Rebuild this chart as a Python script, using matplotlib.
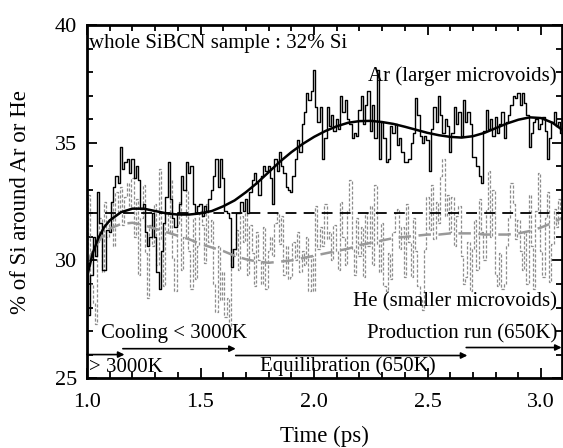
import numpy as np
import matplotlib.pyplot as plt

plt.rcParams['font.family'] = ['Liberation Serif', 'DejaVu Serif']

# time grid of the raw data (ps)
time = np.round(np.arange(1.00, 3.095, 0.01), 2)

# % Si around Ar (larger microvoids)
ar = [29.9, 27.7, 29.4, 31.0, 30.2, 32.9, 31.6, 29.6, 29.6, 31.3,
      31.2, 32.5, 33.1, 33.6, 33.3, 34.8, 33.9, 34.2, 34.3, 33.7,
      34.3, 33.5, 34.0, 33.4, 32.2, 32.4, 31.2, 30.6, 31.0, 32.0,
      31.0, 29.5, 28.8, 30.4, 31.6, 32.7, 34.2, 32.6, 31.8, 31.4,
      32.0, 32.4, 33.6, 33.0, 34.2, 33.7, 34.0, 32.4, 32.0, 32.3,
      32.4, 31.9, 32.3, 32.1, 32.6, 33.0, 33.6, 34.3, 33.1, 34.3,
      33.5, 32.1, 32.0, 31.8, 29.7, 30.5, 32.0, 32.0, 32.5, 32.1,
      32.6, 32.0, 32.9, 33.4, 33.7, 33.3, 32.8, 33.6, 34.0, 33.8,
      34.0, 33.5, 32.4, 34.3, 33.8, 34.6, 34.0, 33.7, 33.1, 33.0,
      32.9, 33.6, 34.3, 35.1, 34.6, 35.8, 36.3, 37.1, 36.8, 37.2,
      38.1, 36.5, 35.9, 36.5, 34.3, 35.2, 36.5, 35.7, 36.2, 35.5,
      36.0, 35.6, 37.0, 36.3, 36.8, 36.0, 35.8, 35.2, 35.4, 35.3,
      36.4, 37.0, 35.8, 36.6, 37.2, 35.5, 36.6, 35.2, 38.1, 34.3,
      35.9, 35.2, 34.2, 34.3, 35.7, 35.4, 35.8, 34.9, 35.2, 34.6,
      34.2, 34.2, 34.3, 35.0, 35.4, 36.9, 36.2, 35.3, 35.0, 35.3,
      35.1, 33.8, 35.6, 36.5, 35.9, 37.0, 36.2, 35.4, 36.0, 35.7,
      34.6, 35.4, 36.5, 35.8, 36.3, 35.3, 36.8, 35.9, 36.3, 35.8,
      34.4, 34.4, 34.0, 33.6, 33.3, 35.5, 36.4, 35.6, 36.0, 35.3,
      36.1, 35.4, 35.8, 36.3, 35.2, 35.9, 36.2, 36.6, 37.0, 36.9,
      37.1, 36.6, 37.1, 36.7, 36.2, 34.8, 35.4, 35.9, 36.0, 35.6,
      35.8, 36.1, 35.5, 34.3, 35.2, 35.9, 36.3, 35.7, 35.9, 35.4]

# % Si around He (smaller microvoids)
he = [30.5, 32.8, 29.0, 28.2, 27.3, 30.8, 31.8, 29.5, 32.5, 31.0,
      31.8, 32.5, 30.6, 32.9, 32.0, 33.1, 31.5, 32.7, 33.3, 32.2,
      33.5, 31.0, 32.6, 29.4, 31.8, 33.2, 30.3, 28.4, 31.5, 30.6,
      32.4, 29.8, 33.9, 30.9, 28.9, 32.0, 31.2, 33.4, 30.1, 28.7,
      31.5, 32.5, 29.6, 31.0, 33.0, 30.4, 28.8, 31.8, 29.2, 30.6,
      32.1, 31.5, 29.9, 32.4, 30.8, 31.7, 29.0, 27.8, 30.6, 28.3,
      29.5, 27.6, 28.4, 27.1, 30.5, 30.2, 31.3, 29.6, 31.9, 30.8,
      32.0, 29.4, 31.5, 30.3, 28.9, 31.2, 30.0, 29.0, 31.4, 28.8,
      30.4, 31.0, 30.2, 31.6, 32.0, 30.7, 31.9, 29.4, 30.6, 29.2,
      29.3, 30.8, 30.0, 31.2, 29.5, 30.4, 29.8, 31.0, 28.7, 30.2,
      28.7, 32.3, 30.5, 31.4, 30.6, 32.4, 30.9, 31.2, 30.0, 31.5,
      30.4, 29.6, 32.5, 31.0, 29.8, 32.1, 33.4, 30.5, 29.4, 31.8,
      30.2, 31.4, 29.3, 32.0, 30.6, 32.3, 29.8, 33.2, 30.7, 29.5,
      31.6, 28.9, 28.7, 30.3, 29.2, 31.2, 32.0, 32.2, 30.5, 31.4,
      29.3, 32.4, 30.8, 29.3, 31.8, 30.4, 28.9, 28.3, 27.9, 30.5,
      32.7, 31.3, 33.2, 30.9, 32.5, 31.6, 33.6, 34.3, 31.9, 32.8,
      31.2, 32.7, 30.6, 31.9, 32.3, 30.2, 29.0, 29.3, 30.8, 28.7,
      30.5, 31.7, 29.6, 32.6, 31.2, 30.0, 32.2, 33.8, 31.0, 33.0,
      29.4, 28.9, 30.3, 28.8, 29.0, 30.6, 31.8, 33.3, 32.4, 30.9,
      31.7, 30.4, 29.6, 31.2, 29.0, 32.8, 30.6, 28.8, 32.1, 33.7,
      30.4, 29.3, 31.8, 32.9, 29.1, 30.7, 32.2, 31.4, 32.6, 32.2]

# smooth fits
fit_t = [1.00, 1.025, 1.05, 1.075, 1.10, 1.15, 1.20, 1.25, 1.30, 1.35, 1.40,
         1.45, 1.50, 1.55, 1.60, 1.65, 1.70, 1.75, 1.80, 1.85, 1.90,
         1.95, 2.00, 2.05, 2.10, 2.15, 2.20, 2.25, 2.30, 2.35, 2.40,
         2.45, 2.50, 2.55, 2.60, 2.65, 2.70, 2.75, 2.80, 2.85, 2.90,
         2.95, 3.00, 3.05, 3.10]
ar_fit = [29.3, 30.3, 30.95, 31.4, 31.7, 32.05, 32.2, 32.2, 32.1, 32.0, 31.95,
          31.95, 32.0, 32.1, 32.3, 32.55, 32.9, 33.3, 33.75, 34.2, 34.6,
          34.95, 35.25, 35.5, 35.7, 35.85, 35.92, 35.93, 35.88, 35.8, 35.68,
          35.55, 35.42, 35.32, 35.25, 35.22, 35.28, 35.42, 35.62, 35.82, 35.98,
          36.08, 36.05, 35.85, 35.5]
he_fit = [29.9, 30.4, 30.8, 31.1, 31.35, 31.55, 31.6, 31.5, 31.35, 31.2, 31.05,
          30.9, 30.7, 30.55, 30.4, 30.2, 30.05, 29.95, 29.9, 29.95, 30.0,
          30.1, 30.2, 30.3, 30.4, 30.5, 30.65, 30.75, 30.85, 30.95, 31.0,
          31.05, 31.1, 31.1, 31.15, 31.15, 31.15, 31.1, 31.1, 31.1, 31.15,
          31.25, 31.4, 31.6, 31.85]

whole_si = 32

fig = plt.figure(figsize=(5.63, 4.48), dpi=100)
ax = fig.add_axes([0.1545, 0.156, 0.843, 0.788])

ax.plot(time, he, color='#8c8c8c', lw=0.9, ls=(0, (2.5, 1.5)), drawstyle='steps-mid')
ax.plot(time, ar, color='black', lw=1.0, drawstyle='steps-mid')
ax.axhline(whole_si, color='black', lw=1.3, ls=(0, (6, 4)))
ax.plot(fit_t, he_fit, color='#999999', lw=1.8, ls=(0, (5, 3)))
ax.plot(fit_t, ar_fit, color='black', lw=1.8)

ax.set_xlim(1.0, 3.09)
ax.set_ylim(25, 40)
ax.set_xticks([1.0, 1.5, 2.0, 2.5, 3.0])
ax.set_xticks(np.arange(1.0, 3.09, 0.1), minor=True)
ax.set_yticks([25, 30, 35, 40])
ax.set_yticks(range(25, 41), minor=True)
ax.tick_params(which='both', direction='in', top=True, right=True, labelsize=16, width=1.3)
ax.tick_params(which='major', length=7)
ax.tick_params(which='minor', length=4)
ax.tick_params(axis='x', pad=11)
ax.tick_params(axis='y', pad=7)
for s in ax.spines.values():
    s.set_linewidth(2)

ax.set_xlabel('Time (ps)', fontsize=16.5)
ax.set_ylabel('% of Si around Ar or He', fontsize=16.5)
ax.xaxis.set_label_coords(0.5, -0.135)
ax.yaxis.set_label_coords(-0.118, 0.5)

ax.text(1.01, 39.2, 'whole SiBCN sample : 32% Si', fontsize=15, va='center')
ax.text(3.07, 37.85, 'Ar (larger microvoids)', fontsize=15, va='center', ha='right')
ax.text(3.07, 28.25, 'He (smaller microvoids)', fontsize=15, va='center', ha='right')
ax.text(1.06, 26.9, 'Cooling < 3000K', fontsize=15, va='center')
ax.text(3.07, 26.9, 'Production run (650K)', fontsize=15, va='center', ha='right')
ax.text(1.008, 25.45, '> 3000K', fontsize=15, va='center')
ax.text(2.15, 25.5, 'Equilibration (650K)', fontsize=15, va='center', ha='center')

arrows = [(1.0, 1.165, 26.0), (1.158, 1.655, 26.25), (1.655, 2.675, 25.96), (2.67, 3.09, 26.3)]
for x0, x1, y in arrows:
    ax.annotate('', xy=(x1, y), xytext=(x0, y),
                arrowprops=dict(arrowstyle='-|>', lw=1.2, color='black', mutation_scale=9,
                                shrinkA=0, shrinkB=0))

fig.savefig('out.png', dpi=100)
